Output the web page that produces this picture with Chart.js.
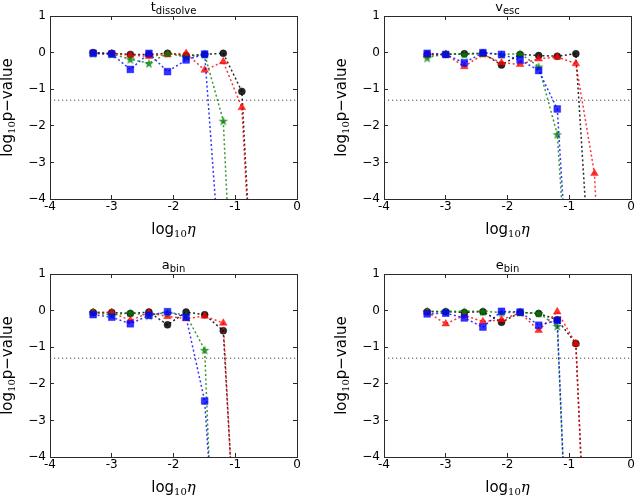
<!DOCTYPE html>
<html><head><meta charset="utf-8">
<script src="https://cdn.jsdelivr.net/npm/chart.js@4/dist/chart.umd.min.js"></script>
<style>
html,body{margin:0;padding:0;background:#fff;}
#wrap{position:relative;width:636px;height:496px;overflow:hidden;}
canvas{position:absolute;}
</style></head><body>
<div id="wrap">
<canvas id="c0" width="318" height="248" style="left:0;top:0"></canvas>
<canvas id="c1" width="326" height="248" style="left:318px;top:0"></canvas>
<canvas id="c2" width="318" height="248" style="left:0;top:248px"></canvas>
<canvas id="c3" width="326" height="248" style="left:318px;top:248px"></canvas>
</div>
<script>
// ---- data ----
const logEta = [-3.301, -3.0, -2.699, -2.398, -2.097, -1.796, -1.495, -1.194, -0.893, -0.592, -0.291];
const pThreshold = -1.301;
const xTickValues = [-4, -3, -2, -1, 0];
const yTickValues = [1, 0, -1, -2, -3, -4];
const panelTitles = [["t", "dissolve"], ["v", "esc"], ["a", "bin"], ["e", "bin"]];

const tDissolveBlack = [0.0, -0.02, -0.05, -0.05, -0.02, -0.08, -0.05, -0.02, -1.06, -10.9];
const tDissolveRed   = [-0.02, -0.03, -0.07, -0.10, -0.05, -0.02, -0.48, -0.25, -1.50, -10.9];
const tDissolveGreen = [-0.02, -0.04, -0.18, -0.29, -0.02, -0.12, -0.05, -1.86, -12.6];
const tDissolveBlue  = [-0.02, -0.04, -0.46, -0.02, -0.52, -0.20, -0.04, -7.0];

const vEscBlack = [-0.05, -0.05, -0.03, -0.02, -0.34, -0.05, -0.08, -0.10, -0.03, -8.0];
const vEscRed   = [-0.06, -0.05, -0.38, -0.05, -0.28, -0.32, -0.17, -0.12, -0.30, -3.3, -13.8];
const vEscGreen = [-0.14, -0.03, -0.05, -0.02, -0.05, -0.03, -0.38, -2.23, -9.9];
const vEscBlue  = [-0.02, -0.05, -0.28, 0.0, -0.05, -0.20, -0.49, -1.54, -9.7];

const aBinBlack = [-0.05, -0.05, -0.08, -0.04, -0.39, -0.04, -0.11, -0.55, -9.6];
const aBinRed   = [-0.05, -0.05, -0.27, -0.06, -0.16, -0.22, -0.15, -0.34, -9.9];
const aBinGreen = [-0.05, -0.12, -0.06, -0.13, -0.05, -0.12, -1.07, -14.0];
const aBinBlue  = [-0.11, -0.18, -0.36, -0.13, -0.03, -0.18, -2.47, -10.1];

const eBinBlack = [-0.03, -0.03, -0.05, -0.03, -0.32, -0.05, -0.08, -0.25, -0.90, -12.4];
const eBinRed   = [-0.04, -0.36, -0.13, -0.30, -0.25, -0.06, -0.54, -0.03, -0.90, -12.4];
const eBinGreen = [-0.02, -0.02, -0.02, -0.02, -0.05, -0.05, -0.07, -0.42, -12.5];
const eBinBlue  = [-0.09, -0.07, -0.20, -0.45, -0.02, -0.04, -0.40, -0.27, -12.5];

const panelSeries = [
  [tDissolveBlack, tDissolveRed, tDissolveGreen, tDissolveBlue],
  [vEscBlack, vEscRed, vEscGreen, vEscBlue],
  [aBinBlack, aBinRed, aBinGreen, aBinBlue],
  [eBinBlack, eBinRed, eBinGreen, eBinBlue]
];

// ---- styles ----
const SANS = '"DejaVu Sans", sans-serif';
const SERIF = '"DejaVu Serif", serif';
const colors = ['rgba(0,0,0,0.85)', 'rgba(255,0,0,0.8)', 'rgba(0,128,0,0.8)', 'rgba(0,0,255,0.8)'];
const FRAME = '#2a2a2a';

function makeStar(color, r) {
  const s = Math.ceil(r * 2 + 2);
  const c = document.createElement('canvas');
  c.width = s; c.height = s;
  const g = c.getContext('2d');
  g.fillStyle = color;
  g.beginPath();
  for (let i = 0; i < 10; i++) {
    const rad = (i % 2 === 0) ? r : r * 0.42;
    const a = -Math.PI / 2 + i * Math.PI / 5;
    const px = s / 2 + rad * Math.cos(a), py = s / 2 + rad * Math.sin(a) + 0.6;
    if (i === 0) g.moveTo(px, py); else g.lineTo(px, py);
  }
  g.closePath(); g.fill();
  return c;
}
const starImg = makeStar(colors[2], 5);
const pointStyles = ['circle', 'triangle', starImg, 'rect'];
const pointRadii = [3.5, 4.4, 5, 4.8];
const orders = [4, 3, 2, 1];

const layouts = [
  {left: 50, top: 16, right: 21, bottom: 49},
  {left: 66, top: 16, right: 13, bottom: 49},
  {left: 50, top: 26, right: 21, bottom: 39},
  {left: 66, top: 26, right: 13, bottom: 39}
];

function drawParts(ctx, parts, x, y) {
  let w = 0;
  parts.forEach(p => { ctx.font = p.font; w += ctx.measureText(p.t).width; });
  let cx = x - w / 2;
  parts.forEach(p => {
    ctx.font = p.font;
    ctx.fillText(p.t, cx, y + (p.dy || 0));
    cx += ctx.measureText(p.t).width;
  });
}

function textPlugin(idx) {
  return {
    id: 'texts' + idx,
    afterDraw(chart) {
      const ctx = chart.ctx, a = chart.chartArea;
      ctx.save();
      ctx.fillStyle = '#000';
      ctx.textBaseline = 'alphabetic';
      ctx.textAlign = 'left';
      const cxm = (a.left + a.right) / 2;
      const tt = panelTitles[idx];
      drawParts(ctx, [{t: tt[0], font: '13px ' + SANS}, {t: tt[1], font: '10px ' + SANS, dy: 3}], cxm, a.top - 5);
      drawParts(ctx, [{t: 'log', font: '15px ' + SANS}, {t: '10', font: '10px ' + SERIF, dy: 3},
                      {t: 'η', font: 'italic 15px ' + SERIF}], cxm, a.bottom + 35);
      ctx.translate(a.left - 38, (a.top + a.bottom) / 2);
      ctx.rotate(-Math.PI / 2);
      drawParts(ctx, [{t: 'log', font: '15px ' + SANS}, {t: '10', font: '10px ' + SERIF, dy: 3},
                      {t: 'p\u2212value', font: '15px ' + SANS}], 0, 0);
      ctx.restore();
    }
  };
}

function frameGrid() {
  return {display: true, drawOnChartArea: false, drawTicks: true, tickLength: -4,
          color: FRAME, lineWidth: 1};
}
function frameBorder() { return {display: true, color: FRAME, width: 1}; }

function buildChart(idx) {
  const lay = layouts[idx];
  const datasets = [{
    data: [{x: -4, y: pThreshold}, {x: 0, y: pThreshold}],
    borderColor: '#444', borderWidth: 1, borderDash: [1.2, 2.8],
    pointRadius: 0, showLine: true, order: 5
  }];
  panelSeries[idx].forEach((vals, s) => {
    datasets.push({
      data: vals.map((v, i) => ({x: logEta[i], y: v})),
      showLine: true,
      borderColor: colors[s],
      borderWidth: 1.5,
      borderDash: [2, 2.5],
      backgroundColor: colors[s],
      pointBackgroundColor: colors[s],
      pointBorderColor: colors[s],
      pointBorderWidth: 0.5,
      pointStyle: pointStyles[s],
      pointRadius: pointRadii[s],
      order: orders[s]
    });
  });
  const xTicksCb = sc => { sc.ticks = xTickValues.map(v => ({value: v})); };
  const yTicksCb = sc => { sc.ticks = yTickValues.map(v => ({value: v})); };
  return new Chart(document.getElementById('c' + idx), {
    type: 'scatter',
    data: {datasets},
    options: {
      responsive: false,
      animation: false,
      devicePixelRatio: 1,
      layout: {padding: {left: 0, top: lay.top, right: lay.right, bottom: 0}},
      plugins: {legend: {display: false}, tooltip: {enabled: false}, title: {display: false}},
      scales: {
        x: {
          type: 'linear', position: 'bottom', min: -4, max: 0,
          grid: frameGrid(), border: frameBorder(),
          afterFit(sc) { sc.height = lay.bottom; },
          afterBuildTicks: xTicksCb,
          ticks: {padding: 5, color: '#000', font: {family: SANS, size: 12},
                  callback: v => String(v)}
        },
        x2: {
          type: 'linear', position: 'top', min: -4, max: 0,
          grid: frameGrid(), border: frameBorder(),
          afterFit(sc) { sc.height = 0; },
          afterBuildTicks: xTicksCb,
          ticks: {display: false}
        },
        y: {
          type: 'linear', position: 'left', min: -4, max: 1,
          grid: frameGrid(), border: frameBorder(),
          afterFit(sc) { sc.width = lay.left; },
          afterBuildTicks: yTicksCb,
          ticks: {padding: 8, color: '#000', font: {family: SANS, size: 12},
                  callback: v => v < 0 ? '\u2212' + Math.abs(v) : String(v)}
        },
        y2: {
          type: 'linear', position: 'right', min: -4, max: 1,
          grid: frameGrid(), border: frameBorder(),
          afterFit(sc) { sc.width = 0; },
          afterBuildTicks: yTicksCb,
          ticks: {display: false}
        }
      }
    },
    plugins: [textPlugin(idx)]
  });
}
[0, 1, 2, 3].forEach(buildChart);
</script>
</body></html>
